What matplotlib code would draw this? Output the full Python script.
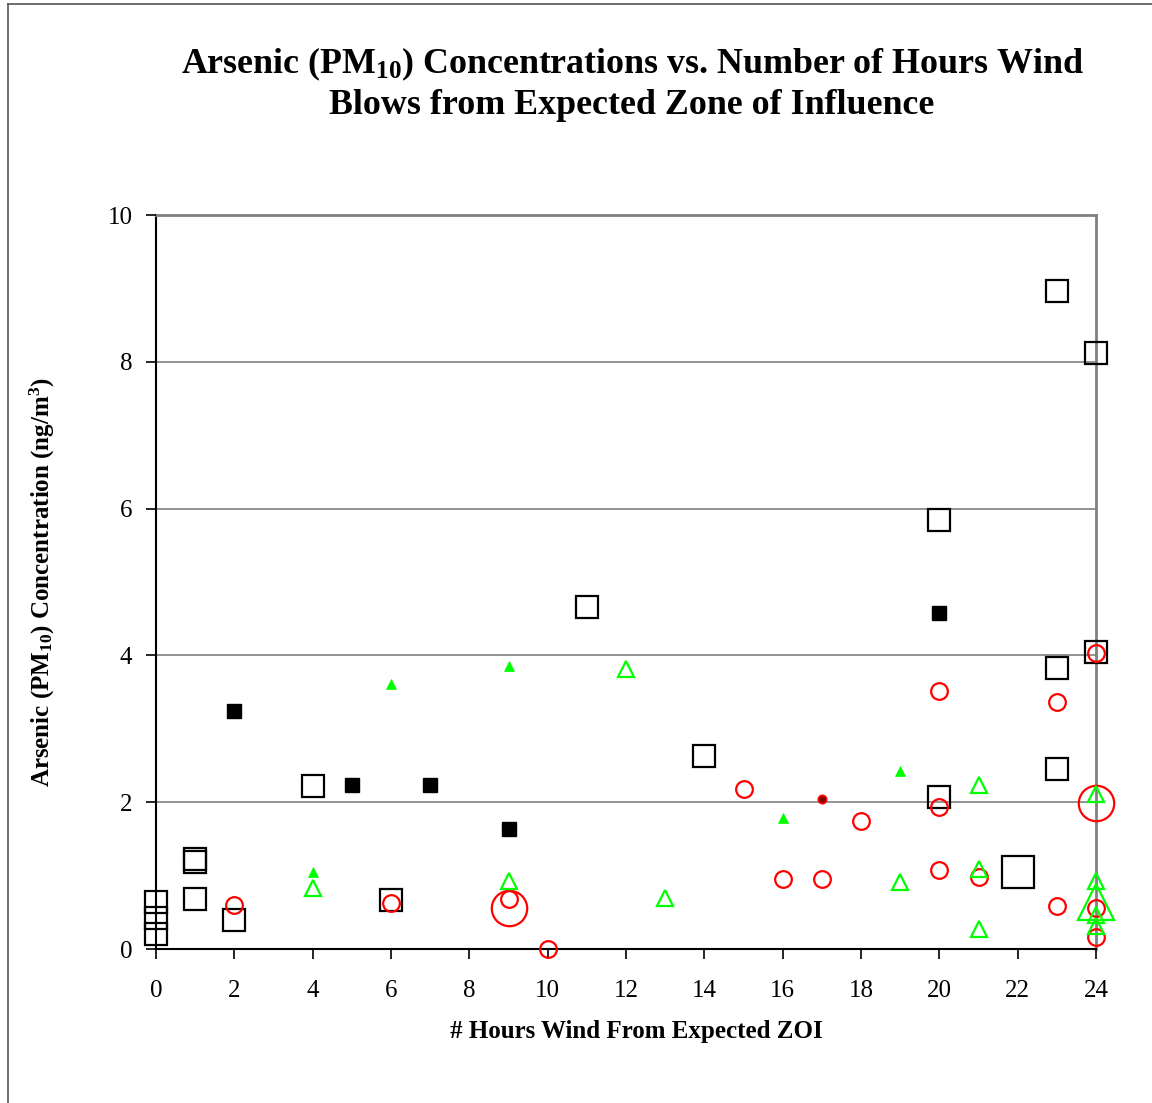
import numpy as np
import matplotlib.pyplot as plt
from matplotlib.lines import Line2D

plt.rcParams['font.family'] = ['Liberation Serif', 'DejaVu Serif']
plt.rcParams['mathtext.fontset'] = 'custom'
plt.rcParams['mathtext.rm'] = 'Liberation Serif:bold'
plt.rcParams['mathtext.bf'] = 'Liberation Serif:bold'
plt.rcParams['mathtext.it'] = 'Liberation Serif:bold:italic'

# open black squares
sq_open_x = [0, 0, 0, 1, 1, 1, 2, 4, 6, 11, 14, 20, 20, 23, 23, 23, 24, 24]
sq_open_y = [0.64, 0.42, 0.20, 1.22, 1.18, 0.68, 0.39, 2.22, 0.67, 4.66, 2.63,
             5.84, 2.07, 8.97, 3.83, 2.45, 8.12, 4.05]
sq_big_x = [22]
sq_big_y = [1.05]

# filled black squares
sq_fill_x = [2, 5, 7, 9, 20]
sq_fill_y = [3.24, 2.23, 2.23, 1.63, 4.58]

# open green triangles
tri_open_x = [4, 9, 12, 13, 19, 21, 21, 21, 24, 24, 24, 24]
tri_open_y = [0.83, 0.93, 3.82, 0.69, 0.91, 2.23, 1.09, 0.27, 2.11, 0.93, 0.47, 0.31]
tri_big_x = [24]
tri_big_y = [0.64]

# filled green triangles
tri_fill_x = [4, 6, 9, 16, 19]
tri_fill_y = [1.05, 3.61, 3.86, 1.78, 2.42]

# open red circles
circ_x = [2, 6, 9, 10, 15, 16, 17, 18, 20, 20, 20, 21, 23, 23, 24, 24, 24]
circ_y = [0.60, 0.63, 0.68, 0.0, 2.18, 0.95, 0.95, 1.74, 3.51, 1.94, 1.07, 0.98,
          3.36, 0.58, 4.03, 0.56, 0.17]
circ_big_x = [9, 24]
circ_big_y = [0.56, 1.99]

# filled red dot
dot_x = [17]
dot_y = [2.04]

fig = plt.figure(figsize=(11.52, 11.03), dpi=100)
ax = fig.add_axes([156 / 1152, 1 - 949 / 1103, 940 / 1152, 734 / 1103])

grey = '#808080'
for yv in [2, 4, 6, 8]:
    ax.axhline(yv, color=grey, lw=1.2, zorder=0)

kw = dict(ls='none', clip_on=False)
ax.plot(sq_open_x, sq_open_y, 's', ms=16.5, mfc='none', mec='black', mew=1.6, **kw)
ax.plot(sq_big_x, sq_big_y, 's', ms=22.5, mfc='none', mec='black', mew=1.6, **kw)
ax.plot(sq_fill_x, sq_fill_y, 's', ms=10.5, mfc='black', mec='black', mew=1, **kw)
ax.plot(circ_x, circ_y, 'o', ms=12, mfc='none', mec='#ff0000', mew=1.6, **kw)
ax.plot(circ_big_x, circ_big_y, 'o', ms=25.5, mfc='none', mec='#ff0000', mew=1.6, **kw)
ax.plot(dot_x, dot_y, 'o', ms=6, mfc='#8b0000', mec='#ff0000', mew=1.2, **kw)
ax.plot(tri_open_x, tri_open_y, '^', ms=11.5, mfc='none', mec='#00ff00', mew=1.6, **kw)
ax.plot(tri_big_x, tri_big_y, '^', ms=26, mfc='none', mec='#00ff00', mew=1.6, **kw)
ax.plot(tri_fill_x, tri_fill_y, '^', ms=7.5, mfc='#00ff00', mec='#00ff00', mew=0.5, **kw)

ax.set_xlim(0, 24)
ax.set_ylim(0, 10)
ax.set_xticks(np.arange(0, 25, 2))
ax.set_yticks(np.arange(0, 11, 2))
ax.tick_params(axis='both', direction='out', length=7, width=1.2, labelsize=18)
ax.tick_params(axis='x', pad=15)
ax.tick_params(axis='y', pad=10)
for side in ['top', 'right']:
    ax.spines[side].set_color(grey)
    ax.spines[side].set_linewidth(2)
for side in ['left', 'bottom']:
    ax.spines[side].set_color('black')
    ax.spines[side].set_linewidth(1.5)
for s in ax.spines.values():
    s.set_zorder(0.5)

ax.set_xlabel('# Hours Wind From Expected ZOI', fontsize=18, fontweight='bold', labelpad=13)
ax.xaxis.label.set_x((636 - 156) / 940)
ax.set_ylabel(r'Arsenic (PM$_{10}$) Concentration (ng/m$^{3}$)', fontsize=18,
              fontweight='bold', labelpad=36)

fig.text(632 / 1152, 1 - 64 / 1103,
         r'Arsenic (PM$_{10}$) Concentrations vs. Number of Hours Wind',
         ha='center', va='center', fontsize=25.8, fontweight='bold')
fig.text(632 / 1152, 1 - 105 / 1103, 'Blows from Expected Zone of Influence',
         ha='center', va='center', fontsize=25.8, fontweight='bold')

# outer frame lines
fig.add_artist(Line2D([8 / 1152, 1], [1 - 4 / 1103, 1 - 4 / 1103], transform=fig.transFigure,
                      color='#555555', lw=1.2))
fig.add_artist(Line2D([8 / 1152, 8 / 1152], [0, 1 - 4 / 1103], transform=fig.transFigure,
                      color='#555555', lw=1.2))

fig.savefig('out.png', dpi=100)
